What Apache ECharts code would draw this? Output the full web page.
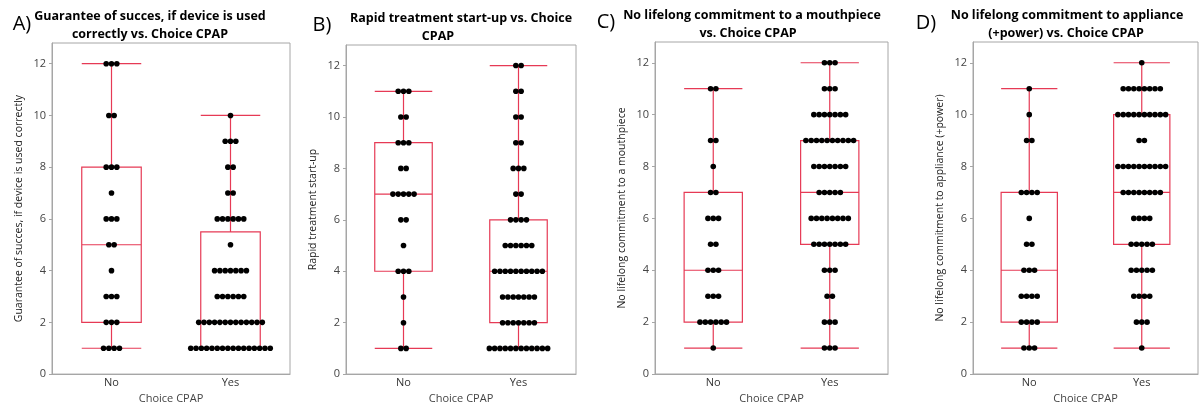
<!DOCTYPE html>
<html>
<head>
<meta charset="utf-8">
<script src="https://cdn.jsdelivr.net/npm/echarts@6/dist/echarts.min.js"></script>
<style>
  html, body { margin: 0; padding: 0; background: #ffffff; }
  #chart { width: 1201px; height: 409px; }
</style>
</head>
<body>
<div id="chart"></div>
<script>
// Response levels on the 1-12 scale, groups and y-axis ticks
const levels = [1, 2, 3, 4, 5, 6, 7, 8, 9, 10, 11, 12];
const groups = ['No', 'Yes'];
const yTicks = [0, 2, 4, 6, 8, 10, 12];

// Number of respondents at each level (1..12), per group
const countsA_No  = [4, 3, 3, 1, 2, 3, 1, 3, 0, 2, 0, 3];
const countsA_Yes = [16, 13, 6, 7, 1, 6, 2, 2, 3, 1, 0, 0];
const countsB_No  = [2, 1, 1, 3, 1, 2, 5, 2, 3, 2, 3, 0];
const countsB_Yes = [12, 7, 7, 10, 6, 4, 2, 3, 2, 2, 2, 2];
const countsC_No  = [1, 6, 3, 3, 2, 3, 2, 1, 2, 0, 2, 0];
const countsC_Yes = [3, 3, 2, 3, 7, 8, 5, 7, 10, 7, 3, 3];
const countsD_No  = [3, 4, 4, 3, 2, 1, 4, 0, 2, 1, 1, 0];
const countsD_Yes = [1, 3, 4, 5, 5, 4, 8, 10, 2, 10, 8, 1];

// Box statistics [min, Q1, median, Q3, max] for No / Yes
const boxA = [[1, 2, 5, 8, 12], [1, 1, 2, 5.5, 10]];
const boxB = [[1, 4, 7, 9, 11], [1, 2, 4, 6, 12]];
const boxC = [[1, 2, 4, 7, 11], [1, 5, 7, 9, 12]];
const boxD = [[1, 2, 4, 7, 11], [1, 5, 7, 10, 12]];

// Panel texts
const panelLetters = ['A)', 'B)', 'C)', 'D)'];
const titleLines = [
  ['Guarantee of succes, if device is used', 'correctly vs. Choice CPAP'],
  ['Rapid treatment start-up vs. Choice', 'CPAP'],
  ['No lifelong commitment to a mouthpiece', 'vs. Choice CPAP'],
  ['No lifelong commitment to appliance', '(+power) vs. Choice CPAP']
];
const yNames = [
  'Guarantee of succes, if device is used correctly',
  'Rapid treatment start-up',
  'No lifelong commitment to a mouthpiece',
  'No lifelong commitment to appliance (+power)'
];
const xName = 'Choice CPAP';

const panels = [
  { counts: [countsA_No, countsA_Yes], box: boxA },
  { counts: [countsB_No, countsB_Yes], box: boxB },
  { counts: [countsC_No, countsC_Yes], box: boxC },
  { counts: [countsD_No, countsD_Yes], box: boxD }
];

// Layout of each plot frame
const gridBoxes = [
  { left: 52,  top: 43, width: 238, height: 334 },
  { left: 346, top: 45, width: 230, height: 333 },
  { left: 655, top: 42, width: 233, height: 332 },
  { left: 973, top: 42, width: 225, height: 332 }
];
const letterPos = [[22, 24], [322, 25], [606, 22], [926, 23]];
const titlePos = [
  [[150, 16], [150, 34]],
  [[461, 18], [438, 36]],
  [[752, 15], [748, 33]],
  [[1067, 15], [1066, 33]]
];

const RED = '#e63a55';
const FRAME = '#a6a6a6';
const DOT_GAP = 5.3;
const FONT = '"Open Sans", "Noto Sans", sans-serif';

const grids = [], xAxes = [], yAxes = [], series = [], graphics = [];

panels.forEach((p, k) => {
  const g = gridBoxes[k];
  grids.push({
    left: g.left, top: g.top, width: g.width, height: g.height,
    show: true, borderColor: FRAME, borderWidth: 1, backgroundColor: '#fff'
  });
  xAxes.push({
    type: 'category', gridIndex: k, data: groups,
    name: xName, nameLocation: 'middle', nameGap: 14,
    nameTextStyle: { fontFamily: FONT, fontSize: 11, color: '#444' },
    axisLine: { show: true, lineStyle: { color: FRAME } },
    axisTick: { show: false },
    axisLabel: { fontFamily: FONT, fontSize: 11, color: '#333', margin: 3 },
    splitLine: { show: false }
  });
  yAxes.push({
    type: 'value', gridIndex: k, min: 0, max: 12.8, interval: 2,
    name: yNames[k], nameLocation: 'middle', nameGap: 27,
    nameTextStyle: { fontFamily: FONT, fontSize: 10.5, color: '#222' },
    axisLine: { show: true, lineStyle: { color: FRAME } },
    axisTick: { show: true, length: 3, lineStyle: { color: FRAME }, customValues: yTicks },
    axisLabel: { fontFamily: FONT, fontSize: 11, color: '#444', margin: 6, customValues: yTicks },
    splitLine: { show: false }
  });

  series.push({
    type: 'boxplot', xAxisIndex: k, yAxisIndex: k,
    data: p.box, boxWidth: ['50%', '50%'],
    itemStyle: { color: 'rgba(255,255,255,0)', borderColor: RED, borderWidth: 1.2 },
    emphasis: { disabled: true },
    z: 2
  });

  // one dot per respondent, spread sideways around the group centre
  const dots = [];
  p.counts.forEach((row, ci) => {
    row.forEach((n, li) => {
      for (let i = 0; i < n; i++) {
        dots.push({
          value: [ci, levels[li]],
          symbolOffset: [(i - (n - 1) / 2) * DOT_GAP, 0]
        });
      }
    });
  });
  series.push({
    type: 'scatter', xAxisIndex: k, yAxisIndex: k,
    data: dots, symbol: 'circle', symbolSize: 5.6,
    itemStyle: { color: '#000', opacity: 1 },
    emphasis: { disabled: true },
    z: 3
  });

  graphics.push({
    type: 'text', x: letterPos[k][0], y: letterPos[k][1],
    style: { text: panelLetters[k], font: '20px ' + FONT, fill: '#000',
             textAlign: 'center', textVerticalAlign: 'middle' }
  });
  titleLines[k].forEach((line, j) => {
    graphics.push({
      type: 'text', x: titlePos[k][j][0], y: titlePos[k][j][1],
      style: { text: line, font: 'bold 12.5px ' + FONT, fill: '#000',
               textAlign: 'center', textVerticalAlign: 'middle' }
    });
  });
});

const chart = echarts.init(document.getElementById('chart'), null, { renderer: 'canvas' });
chart.setOption({
  animation: false,
  backgroundColor: '#ffffff',
  grid: grids,
  xAxis: xAxes,
  yAxis: yAxes,
  series: series,
  graphic: graphics
});
</script>
</body>
</html>
